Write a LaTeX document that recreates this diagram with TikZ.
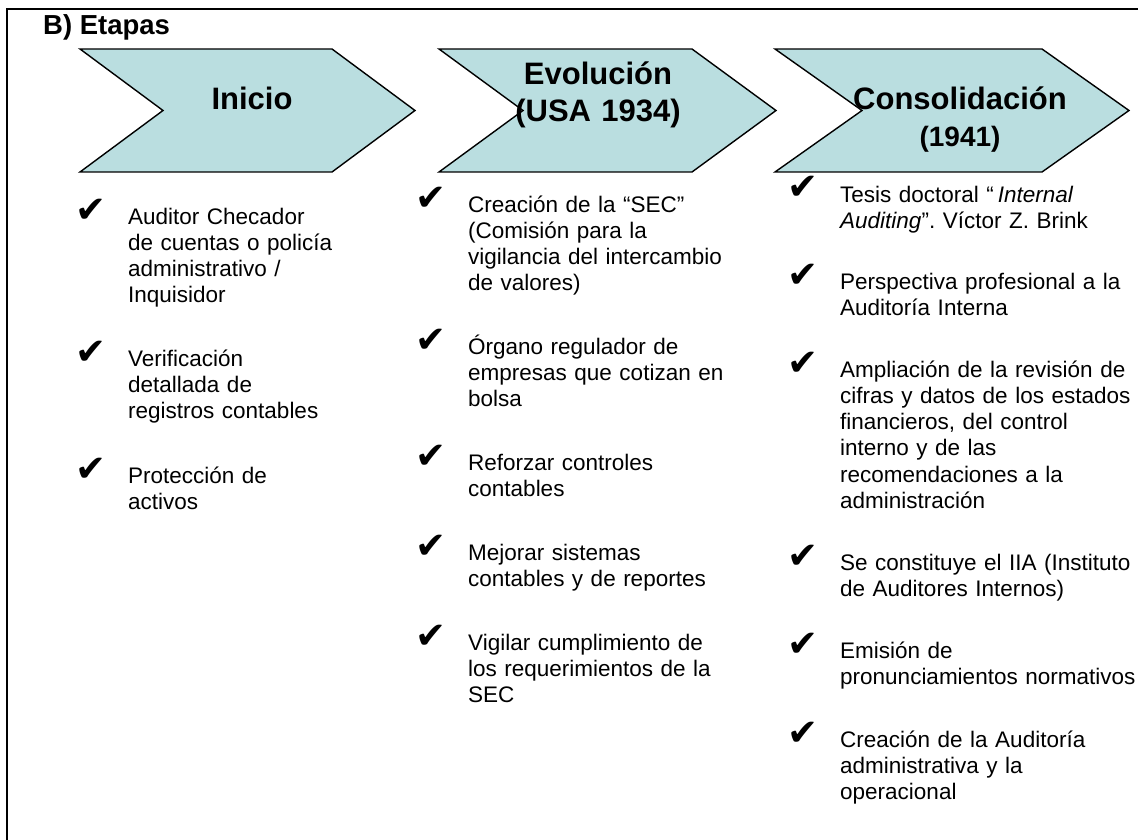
\documentclass[tikz,border=0pt]{standalone}
\usepackage{fontspec}
\setmainfont{Liberation Sans}
\newfontfamily\tickfont{DejaVu Sans}
\usetikzlibrary{positioning}
\definecolor{stageFill}{RGB}{186,222,224}
\frenchspacing

\begin{document}
\begin{tikzpicture}[
    x=1pt,y=-1pt,
    stage/.style={
      draw=black,
      fill=stageFill,
      line width=1.4pt
    },
    stage title/.style={
      text width=240pt,
      align=center,
      inner sep=0pt,
      anchor=base,
      font=\fontsize{31}{36.5}\selectfont\bfseries
    },
    item/.style={
      anchor=base west,
      text width=300pt,
      align=left,
      inner sep=0pt,
      font=\fontsize{22.5}{26.3}\selectfont
    },
    tick/.style={
      inner sep=0pt,
      font=\tickfont\fontsize{37}{37}\selectfont
    }
  ]
  \newcommand{\tickLeft}{53pt}
  \newcommand{\tickUp}{2pt}
  \newcommand{\stageShape}[3]{%
    \draw[stage] (#1,49) -- (#2,49) -- ++(#3,61.5) -- ++(-#3,61.5)
      -- (#1,172) -- ++(#3,-61.5) -- cycle;
  }
  \useasboundingbox (0,0) rectangle (1138,840);

  % Frame and title
  \draw[line width=2pt] (1140,9) -- (7,9) -- (7,842);
  \node[anchor=base west, inner sep=0pt, font=\fontsize{27.5}{32}\selectfont\bfseries]
    (title) at (43,35) {B) Etapas};

  % Stages
  \stageShape{80}{332}{83}
  \stageShape{439}{692}{84}
  \stageShape{775}{1042}{87}
  \node[stage title] (inicio) at (252,110) {Inicio};
  \node[stage title] (evolucion) at (598,85) {Evolución\\(USA 1934)};
  \node[stage title] (consolidacion) at (960,110)
    {Consolidación\\{\fontsize{28}{33}\selectfont (1941)}};

  % Inicio
  \node[item] (ini1) at (128,224) {Auditor Checador\\de cuentas o policía\\administrativo /\\Inquisidor};
  \node[item] (ini2) at (128,366) {Verificación\\detallada de\\registros contables};
  \node[item] (ini3) at (128,483) {Protección de\\activos};

  % Evolucion
  \node[item] (evo1) at (468,212) {Creación de la “SEC”\\(Comisión para la\\vigilancia del intercambio\\de valores)};
  \node[item] (evo2) at (468,354) {Órgano regulador de\\empresas que cotizan en\\bolsa};
  \node[item] (evo3) at (468,470) {Reforzar controles\\contables};
  \node[item] (evo4) at (468,560) {Mejorar sistemas\\contables y de reportes};
  \node[item] (evo5) at (468,650) {Vigilar cumplimiento de\\los requerimientos de la\\SEC};

  % Consolidacion
  \node[item] (con1) at (840,202) {Tesis doctoral “\,\textit{Internal}\\\textit{Auditing}”. Víctor Z. Brink};
  \node[item] (con2) at (840,289) {Perspectiva profesional a la\\Auditoría Interna};
  \node[item] (con3) at (840,377) {Ampliación de la revisión de\\cifras y datos de los estados\\financieros, del control\\interno y de las\\recomendaciones a la\\administración};
  \node[item] (con4) at (840,570) {Se constituye el IIA (Instituto\\de Auditores Internos)};
  \node[item] (con5) at (840,658) {Emisión de\\pronunciamientos normativos};
  \node[item] (con6) at (840,747) {Creación de la Auditoría\\administrativa y la\\operacional};

  % Ticks
  \foreach \i in {ini1,ini2,ini3,evo1,evo2,evo3,evo4,evo5,con1,con2,con3,con4,con5,con6}
    \node[tick, above left=\tickUp and \tickLeft of \i.base west, anchor=base west] (\i t) {✔};
\end{tikzpicture}
\end{document}
